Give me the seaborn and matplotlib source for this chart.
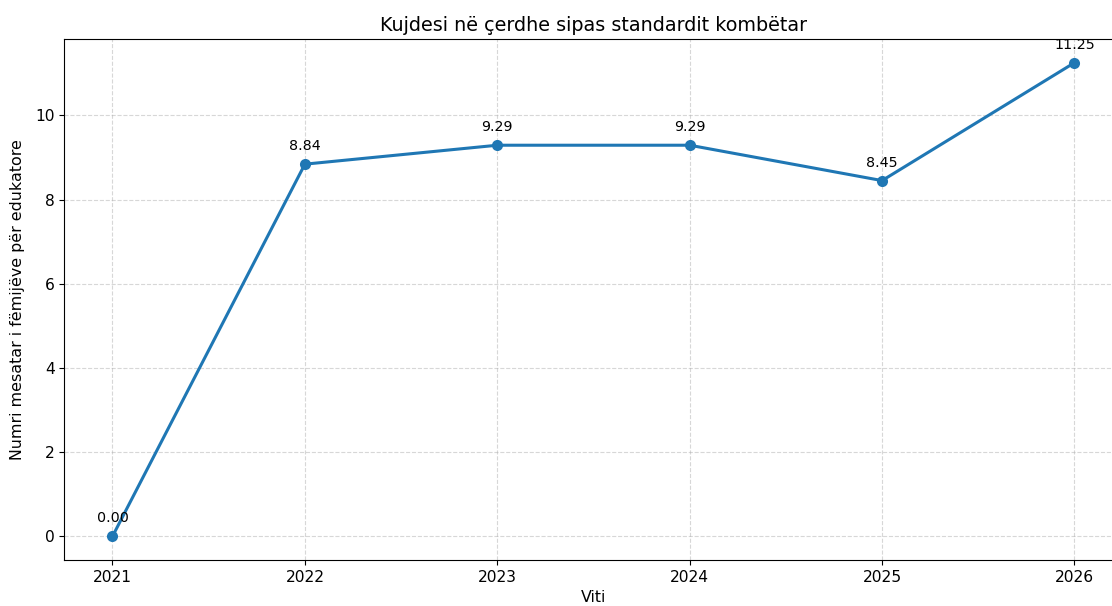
import matplotlib
matplotlib.use("Agg")
import matplotlib.pyplot as plt
import seaborn as sns
import pandas as pd

years = [2021, 2022, 2023, 2024, 2025, 2026]
values = [0.00, 8.84, 9.29, 9.29, 8.45, 11.25]

df = pd.DataFrame({"Viti": years, "Vlera": values})

fig, ax = plt.subplots(figsize=(11.12, 6.06), dpi=100)

sns.lineplot(data=df, x="Viti", y="Vlera", marker="o", markersize=8,
             markeredgewidth=0, linewidth=2.2, color="#1f77b4", ax=ax)

for x, y in zip(years, values):
    ax.annotate(f"{y:.2f}", (x, y), textcoords="offset points",
                xytext=(0, 10), ha="center", fontsize=10.3)

ax.set_xticks(years)
ax.set_title("Kujdesi në çerdhe sipas standardit kombëtar", fontsize=13.8)
ax.set_xlabel("Viti", fontsize=11.4)
ax.set_ylabel("Numri mesatar i fëmijëve për edukatore", fontsize=11.4, labelpad=7)
ax.grid(True, linestyle="--", alpha=0.5)
ax.tick_params(labelsize=11.2)

# the right edge of the axes falls just outside the picture, as in the source
fig.subplots_adjust(left=0.0579, right=1.0095, top=0.9356, bottom=0.0759)
fig.savefig("out.png", dpi=100)
